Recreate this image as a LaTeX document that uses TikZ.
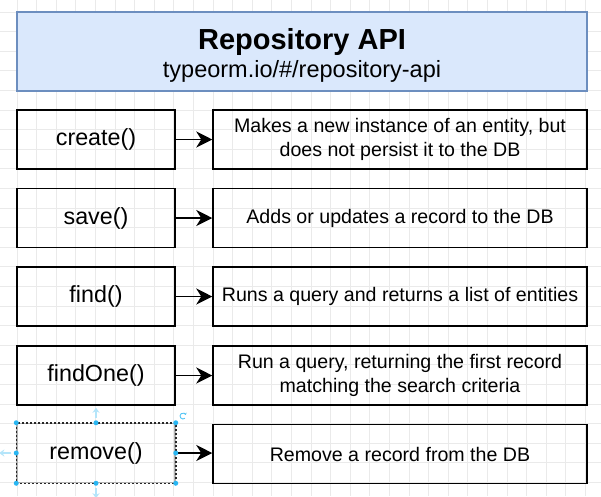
\documentclass[tikz,border=0pt]{standalone}
\usepackage{fontspec}
\setmainfont{Liberation Sans}
\usetikzlibrary{arrows.meta,positioning}
\definecolor{hdrFill}{HTML}{DAE8FC}
\definecolor{hdrLine}{HTML}{6C8EBF}
\definecolor{gridLine}{HTML}{EAEAEA}
\definecolor{selBlue}{HTML}{29B6F2}

\begin{document}
\begin{tikzpicture}[x=1pt,y=-1pt,
  m/.style={draw=black,line width=1.5pt,minimum width=158pt,minimum height=59pt,
            inner sep=0pt,font=\fontsize{23.3}{26}\selectfont},
  d/.style={draw=black,line width=1.5pt,minimum width=374pt,minimum height=59pt,
            inner sep=0pt,align=center,font=\fontsize{19.6}{23.3}\selectfont},
  a/.style={-{Stealth[length=16pt,width=16pt,inset=5pt]},line width=1.3pt},
  h/.style={circle,fill=selBlue,inner sep=0pt,minimum size=5pt}]
\useasboundingbox (0,0) rectangle (601,496);
\fill[white] (0,0) rectangle (601,496);
% grid
\foreach \gx in {-2.6,17.0,...,601} \draw[gridLine,line width=0.7pt] (\gx,0) -- (\gx,496);
\foreach \gy in {-7.6,12.0,...,496} \draw[gridLine,line width=0.7pt] (0,\gy) -- (601,\gy);
% header
\node[draw=hdrLine,fill=hdrFill,line width=1.3pt,minimum width=570pt,minimum height=79pt] (hdr) at (302,51.5) {};
\node[font=\bfseries\fontsize{29}{34}\selectfont,anchor=base] (title) at (302,49) {Repository API};
\node[font=\fontsize{23.5}{28}\selectfont,anchor=base] (url) at (302,77) {typeorm.io/\#/repository-api};
% methods
\node[m] (create) at (96,139.5) {create()};
\node[m] (save) at (96,218) {save()};
\node[m] (find) at (96,296.5) {find()};
\node[m] (findOne) at (96,375.5) {findOne()};
\node[m,draw=black!30] (remove) at (96,453) {remove()};
\node[d] (createD) at (400,139.5) {Makes a new instance of an entity, but\\does not persist it to the DB};
\node[d] (saveD) at (400,218) {Adds or updates a record to the DB};
\node[d] (findD) at (400,296.5) {Runs a query and returns a list of entities};
\node[d] (findOneD) at (400,375.5) {Run a query, returning the first record\\matching the search criteria};
\node[d] (removeD) at (400,454) {Remove a record from the DB};
\draw[a] (create) -- (createD);
\draw[a] (save) -- (saveD);
\draw[a] (find) -- (findD);
\draw[a] (findOne) -- (findOneD);
\draw[a] (remove) -- (remove -| removeD.west);
% selection
\draw[black!85,line width=1.5pt,dash pattern=on 2.5pt off 1.5pt] (remove.north west) rectangle (remove.south east);
\draw[selBlue!35,line width=2pt,-{Stealth[length=5pt,width=7pt]}] (remove.north) ++(0,-5) -- ++(0,-10);
\draw[selBlue!35,line width=2pt,-{Stealth[length=5pt,width=7pt]}] (remove.west) ++(-5,0) -- ++(-12,0);
\draw[selBlue!35,line width=2pt,-{Stealth[length=5pt,width=7pt]}] (remove.south) ++(0,5) -- ++(0,10);
\draw[selBlue!80,line width=0.9pt,-{Stealth[length=2pt,width=3pt]}] (183,416) ++(50:3) arc (50:340:3);
\foreach \p in {north west,north,north east,west,east,south west,south,south east}
  \node[h] at (remove.\p) {};
\end{tikzpicture}
\end{document}
